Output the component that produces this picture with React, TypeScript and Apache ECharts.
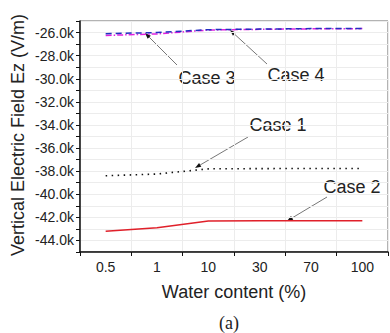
import React, { useEffect, useRef } from "react";
import * as echarts from "echarts";

const categories = ["0.5", "1", "10", "30", "70", "100"];
const case1 = [-38400, -38250, -37800, -37780, -37770, -37770];
const case2 = [-43200, -42900, -42320, -42300, -42300, -42300];
const case3 = [-26100, -26000, -25750, -25700, -25660, -25650];
const case4 = [-26250, -26120, -25780, -25720, -25680, -25660];

const FONT = "Liberation Sans";

function arrow(x1: number, y1: number, x2: number, y2: number) {
  const dx = x2 - x1, dy = y2 - y1;
  const len = Math.sqrt(dx * dx + dy * dy);
  const ux = dx / len, uy = dy / len;
  const hl = 6, hw = 2.2;
  const bx = x2 - ux * hl, by = y2 - uy * hl;
  return [
    { type: "line", shape: { x1, y1, x2: bx, y2: by }, style: { stroke: "#777", lineWidth: 1 }, silent: true },
    {
      type: "polygon",
      shape: { points: [[x2, y2], [bx - uy * hw, by + ux * hw], [bx + uy * hw, by - ux * hw]] },
      style: { fill: "#111" },
      silent: true,
    },
  ];
}

function label(text: string, x: number, y: number, size = 18, family = FONT, rotation = 0) {
  return {
    type: "text",
    x, y, rotation,
    style: { text, fontFamily: family, fontSize: size, fill: "#222", align: "center", verticalAlign: "middle" },
    silent: true,
  };
}

export default function App() {
  const ref = useRef<HTMLDivElement>(null);
  useEffect(() => {
    if (!ref.current) return;
    const chart = echarts.init(ref.current, undefined, { renderer: "svg", width: 390, height: 333 });
    chart.setOption({
      animation: false,
      backgroundColor: "#fff",
      grid: {
        left: 80, right: 2, top: 21, bottom: 81,
        outerBoundsMode: "none", containLabel: false,
        show: true, borderColor: "#666", borderWidth: 1,
      },
      xAxis: {
        type: "category",
        data: categories,
        boundaryGap: true,
        axisLine: { lineStyle: { color: "#111", width: 1.5 } },
        axisTick: { show: true, length: 4, lineStyle: { color: "#111" } },
        axisLabel: { fontFamily: FONT, fontSize: 14, color: "#222", margin: 8 },
        splitLine: { show: true, lineStyle: { color: "#ececec" } },
      },
      yAxis: {
        type: "value",
        min: -45000,
        max: -25000,
        interval: 1000,
        axisLine: { show: true, lineStyle: { color: "#111", width: 1.5 } },
        axisTick: { show: true, length: 4, lineStyle: { color: "#111" } },
        axisLabel: {
          fontFamily: FONT,
          fontSize: 14,
          color: "#222",
          margin: 6,
          formatter: (v: number) =>
            Math.round(v) % 2000 === 0 && v > -45000 && v < -25000 ? (v / 1000).toFixed(1) + "k" : "",
        },
        splitLine: { show: true, lineStyle: { color: "#ececec" } },
      },
      series: [
        {
          name: "Case 1", type: "line", data: case1, symbol: "none",
          lineStyle: { color: "#111", width: 1.6, type: [1.5, 4.5] },
        },
        {
          name: "Case 2", type: "line", data: case2, symbol: "none",
          lineStyle: { color: "#e0202a", width: 1.5 },
        },
        {
          name: "Case 4", type: "line", data: case4, symbol: "none",
          lineStyle: { color: "#e020e0", width: 1.5, type: [6, 2, 1.5, 2] },
        },
        {
          name: "Case 3", type: "line", data: case3, symbol: "none",
          lineStyle: { color: "#2030c0", width: 1.5, type: [6, 4] },
        },
      ],
      graphic: [
        ...arrow(177, 65, 145, 33),
        ...arrow(267, 64, 230, 30),
        ...arrow(248, 137, 195, 168),
        ...arrow(327, 197, 287, 221),
        label("Case 3", 207, 78),
        label("Case 4", 296, 75),
        label("Case 1", 278, 125),
        label("Case 2", 352, 187),
        label("Water content (%)", 234, 292),
        label("Vertical Electric Field Ez (V/m)", 18, 135, 18, FONT, Math.PI / 2),
        label("(a)", 229, 323, 18, "Liberation Serif"),
      ],
    });
    return () => chart.dispose();
  }, []);
  return <div ref={ref} style={{ width: 390, height: 333, position: "absolute", left: 0, top: 0 }} />;
}
